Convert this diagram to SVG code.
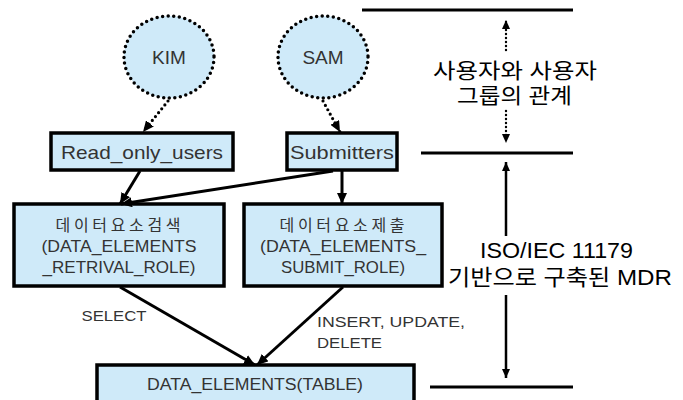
<svg xmlns="http://www.w3.org/2000/svg" width="683" height="400" viewBox="0 0 683 400">
<defs>
<marker id="ah" markerUnits="userSpaceOnUse" markerWidth="12" markerHeight="10" refX="11" refY="5" orient="auto">
<path d="M0,0 L11,5 L0,10 z" fill="#000"/>
</marker>
<marker id="ahs" markerUnits="userSpaceOnUse" markerWidth="10" markerHeight="8" refX="9" refY="4" orient="auto">
<path d="M0,0 L9,4 L0,8 z" fill="#000"/>
</marker>
<style>
.box{fill:#cfeaf9;stroke:#000;stroke-width:3.5}
.user{fill:#cfeaf9;stroke:#000;stroke-width:3.5;stroke-dasharray:0 5.6;stroke-linecap:round}
.lbl{font-family:"Liberation Sans","Noto Sans CJK KR",sans-serif;fill:#333;text-anchor:middle}
.rt{font-family:"Liberation Sans","Noto Sans CJK KR",sans-serif;fill:#000;text-anchor:middle}
.solid{stroke:#000;stroke-width:3;fill:none;marker-end:url(#ah)}
.dot{stroke:#000;stroke-width:3.2;fill:none;stroke-dasharray:0 5;stroke-linecap:round;marker-end:url(#ah)}
.vdot{stroke:#000;stroke-width:2.4;fill:none;stroke-dasharray:0 4;stroke-linecap:round;marker-end:url(#ahs)}
.vsolid{stroke:#000;stroke-width:2.5;fill:none;marker-end:url(#ahs)}
.rule{stroke:#000;stroke-width:3}
</style>
</defs>

<g id="KIM">
<ellipse class="user" cx="169" cy="57" rx="45" ry="41"/>
<text class="lbl" x="169" y="64" font-size="19">KIM</text>
</g>
<g id="SAM">
<ellipse class="user" cx="323" cy="57" rx="45" ry="41"/>
<text class="lbl" x="323" y="64" font-size="19">SAM</text>
</g>
<g id="Read_only_users">
<rect class="box" x="51" y="133" width="182" height="37"/>
<text class="lbl" x="142" y="159" font-size="19" textLength="162" lengthAdjust="spacingAndGlyphs">Read_only_users</text>
</g>
<g id="Submitters">
<rect class="box" x="287" y="133" width="110" height="37"/>
<text class="lbl" x="342" y="159" font-size="19" textLength="104" lengthAdjust="spacingAndGlyphs">Submitters</text>
</g>
<g id="retrival_role">
<rect class="box" x="14" y="204" width="210" height="82"/>
<text class="lbl" x="118" y="231" font-size="16" textLength="125" lengthAdjust="spacing">데이터요소검색</text>
<text class="lbl" x="119" y="252" font-size="16.5" textLength="155" lengthAdjust="spacingAndGlyphs">(DATA_ELEMENTS</text>
<text class="lbl" x="119" y="273" font-size="16.5" textLength="153" lengthAdjust="spacingAndGlyphs">_RETRIVAL_ROLE)</text>
</g>
<g id="submit_role">
<rect class="box" x="244" y="204" width="198" height="82"/>
<text class="lbl" x="342" y="231" font-size="16" textLength="125" lengthAdjust="spacing">데이터요소제출</text>
<text class="lbl" x="343" y="252" font-size="16.5" textLength="166" lengthAdjust="spacingAndGlyphs">(DATA_ELEMENTS_</text>
<text class="lbl" x="343" y="273" font-size="16.5" textLength="124" lengthAdjust="spacingAndGlyphs">SUBMIT_ROLE)</text>
</g>
<g id="table">
<rect class="box" x="97" y="365" width="317" height="50"/>
<text class="lbl" x="255" y="390" font-size="16" textLength="216" lengthAdjust="spacingAndGlyphs">DATA_ELEMENTS(TABLE)</text>
</g>

<g id="connectors">
<line class="dot" x1="168" y1="101" x2="143" y2="132"/>
<line class="dot" x1="323" y1="101" x2="340" y2="132"/>
<line class="solid" x1="140" y1="171" x2="120" y2="204"/>
<line class="solid" x1="333" y1="171" x2="121" y2="204"/>
<line class="solid" x1="342" y1="171" x2="342" y2="204"/>
<line class="solid" x1="120" y1="287" x2="255" y2="365"/>
<line class="solid" x1="343" y1="287" x2="257" y2="365"/>
<text class="lbl" x="114" y="321" font-size="15" textLength="65" lengthAdjust="spacingAndGlyphs">SELECT</text>
<text class="lbl" x="391" y="327" font-size="15" textLength="148" lengthAdjust="spacingAndGlyphs">INSERT, UPDATE,</text>
<text class="lbl" x="349.5" y="348" font-size="15" textLength="65" lengthAdjust="spacingAndGlyphs">DELETE</text>
</g>

<g id="scope">
<line class="rule" x1="362" y1="10" x2="573" y2="10"/>
<line class="rule" x1="421" y1="153" x2="573" y2="153"/>
<line class="rule" x1="430" y1="387" x2="573" y2="387"/>
<line class="vdot" x1="506" y1="50" x2="506" y2="20"/>
<line class="vdot" x1="506" y1="111" x2="506" y2="143"/>
<line class="vsolid" x1="506" y1="236" x2="506" y2="162"/>
<line class="vsolid" x1="506" y1="295" x2="506" y2="378"/>
<text class="rt" x="515" y="78" font-size="21" textLength="164" lengthAdjust="spacingAndGlyphs">사용자와 사용자</text>
<text class="rt" x="514.5" y="103" font-size="21" textLength="115" lengthAdjust="spacingAndGlyphs">그룹의 관계</text>
<text class="rt" x="556.5" y="258" font-size="22" textLength="153" lengthAdjust="spacingAndGlyphs">ISO/IEC 11179</text>
<text class="rt" x="560" y="285" font-size="22" textLength="224" lengthAdjust="spacingAndGlyphs">기반으로 구축된 MDR</text>
</g>
</svg>
